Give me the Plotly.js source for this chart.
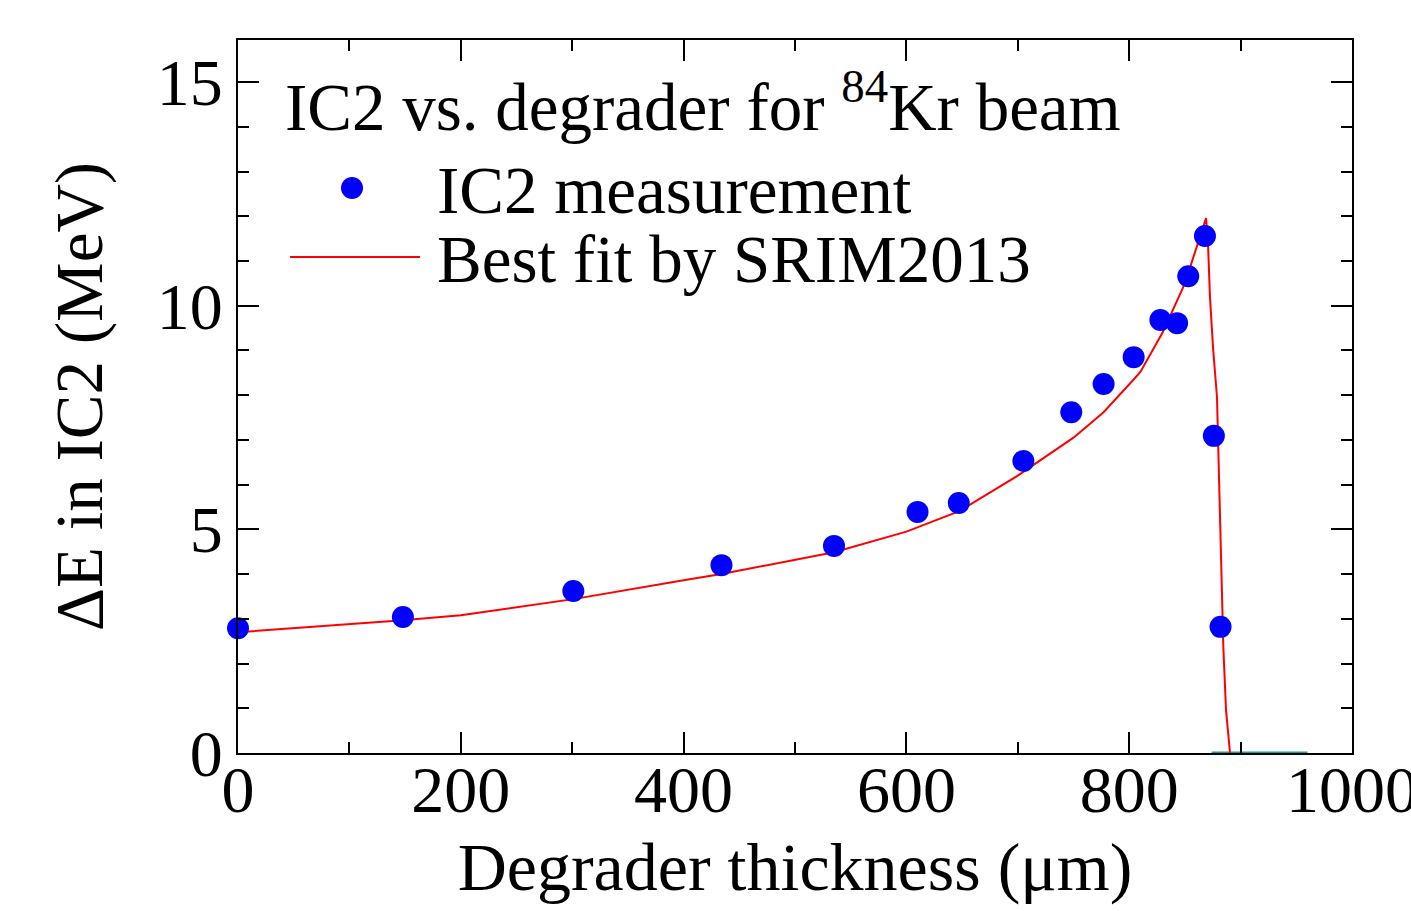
<!DOCTYPE html>
<html>
<head>
<meta charset="utf-8">
<script src="https://cdn.plot.ly/plotly-3.0.1.min.js"></script>
<style>html,body{margin:0;padding:0;background:#fff;}#chart{width:1411px;height:911px;}</style>
</head>
<body>
<div id="chart"></div>
<script>
// Measured IC2 energy loss vs degrader thickness
const measX = [0, 148, 301, 434, 535, 610, 647, 705, 748, 777, 804, 828, 843, 853, 868, 876, 882];
const measY = [2.79, 3.04, 3.62, 4.20, 4.63, 5.39, 5.59, 6.53, 7.62, 8.25, 8.85, 9.68, 9.61, 10.66, 11.56, 7.09, 2.82];

// SRIM2013 best fit curve
const fitX = [0, 100, 148, 200, 301, 400, 434, 535, 600, 647, 700, 750, 777, 804, 810, 830, 850, 869, 870.7, 872.5, 875.2, 878.8, 880.6, 883.3, 884.5, 886.9, 890.5];
const fitY = [2.70, 2.88, 2.97, 3.08, 3.44, 3.86, 4.00, 4.49, 4.95, 5.40, 6.20, 7.05, 7.62, 8.35, 8.52, 9.40, 10.50, 11.96, 11.4, 10.2, 9.08, 7.96, 6.26, 3.87, 2.37, 0.96, 0];

// Zero-level segment at the bottom
const zeroX = [874, 960];
const zeroY = [0, 0];

const xTicks = [0, 200, 400, 600, 800, 1000];
const yTicks = [0, 5, 10, 15];

const titleText = 'IC2 vs. degrader for <sup>84</sup>Kr beam';
const measName = 'IC2 measurement';
const fitName = 'Best fit by SRIM2013';

const FONT = 'Liberation Serif, Times New Roman, serif';

const traces = [
  {x: zeroX, y: zeroY, mode: 'lines', line: {color: '#1a9a9a', width: 3}, showlegend: false, hoverinfo: 'skip', cliponaxis: false},
  {x: fitX, y: fitY, mode: 'lines', name: fitName, line: {color: '#ff0000', width: 2}},
  {x: measX, y: measY, mode: 'markers', name: measName, marker: {color: '#0000ff', size: 22, symbol: 'circle'}, cliponaxis: false}
];

const axisCommon = {
  showline: true, linecolor: '#000', linewidth: 2, mirror: 'allticks',
  ticks: 'inside', ticklen: 21, tickwidth: 2, tickcolor: '#000',
  showgrid: false, zeroline: false, ticklabeloverflow: 'allow',
  tickfont: {family: FONT, size: 66, color: '#000'}
};

const layout = {
  width: 1411, height: 911,
  margin: {l: 238, r: 59, t: 40, b: 158},
  paper_bgcolor: '#fff', plot_bgcolor: '#fff',
  showlegend: false,
  xaxis: Object.assign({}, axisCommon, {
    range: [0, 1000], tickvals: xTicks, ticktext: xTicks.map(String),
    ticklabelstandoff: -22,
    minor: {dtick: 100, ticks: 'inside', ticklen: 11, tickwidth: 2, tickcolor: '#000', showgrid: false},
    title: {text: 'Degrader thickness (μm)', font: {family: FONT, size: 68, color: '#000'}, standoff: 17}
  }),
  yaxis: Object.assign({}, axisCommon, {
    range: [0, 15.94], tickvals: yTicks, ticktext: yTicks.map(String),
    minor: {dtick: 1, ticks: 'inside', ticklen: 11, tickwidth: 2, tickcolor: '#000', showgrid: false},
    title: {text: 'ΔE in IC2 (MeV)', font: {family: FONT, size: 67, color: '#000'}, standoff: 32}
  }),
  annotations: [
    {xref: 'paper', yref: 'paper', x: (283-238)/1114, y: (753-102)/713, xanchor: 'left', yanchor: 'middle',
     text: titleText, showarrow: false, font: {family: FONT, size: 67, color: '#000'}},
    {xref: 'paper', yref: 'paper', x: (435-238)/1114, y: (753-190)/713, xanchor: 'left', yanchor: 'middle',
     text: measName, showarrow: false, font: {family: FONT, size: 67, color: '#000'}},
    {xref: 'paper', yref: 'paper', x: (435-238)/1114, y: (753-259)/713, xanchor: 'left', yanchor: 'middle',
     text: fitName, showarrow: false, font: {family: FONT, size: 67, color: '#000'}}
  ],
  shapes: [
    {type: 'circle', xref: 'paper', yref: 'paper', x0: (341-238)/1114, x1: (363-238)/1114, y0: (753-199)/713, y1: (753-177)/713,
     fillcolor: '#0000ff', line: {width: 0}},
    {type: 'line', xref: 'paper', yref: 'paper', x0: (290-238)/1114, x1: (420-238)/1114, y0: (753-257)/713, y1: (753-257)/713,
     line: {color: '#ff0000', width: 2}}
  ]
};

Plotly.newPlot('chart', traces, layout, {displayModeBar: false, staticPlot: true});
</script>
</body>
</html>
